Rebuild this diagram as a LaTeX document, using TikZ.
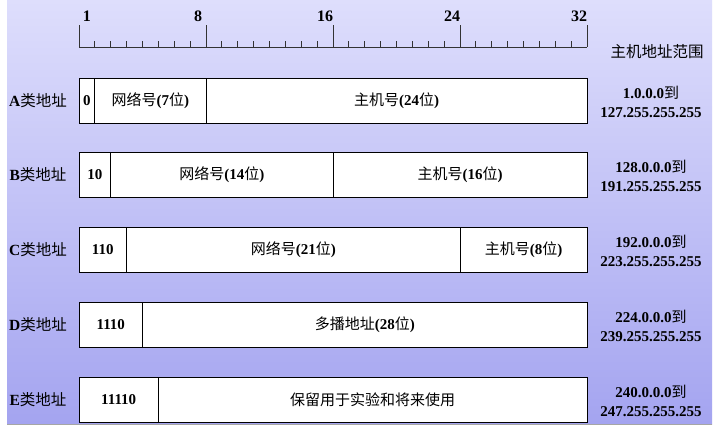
\documentclass[tikz,border=0pt]{standalone}
\usepackage{fontspec}
\setmainfont{Liberation Serif}
\newfontfamily\cjk{Noto Sans CJK SC}
\newcommand\cntext[1]{{\cjk\mdseries #1}}
\usetikzlibrary{positioning}
\tikzset{
  field/.style = {draw, fill=white, line width=0.8pt, minimum height=45pt,
    inner sep=0pt, outer sep=0pt, font=\fontsize{15}{18}\selectfont\bfseries},
  bits/.style = {minimum width=#1*15.875pt},
  rowname/.style = {font=\fontsize{15.5}{18}\selectfont\bfseries},
  iprange/.style = {align=center, font=\fontsize{15}{19}\selectfont\bfseries},
  ruler/.style = {line width=0.8pt, draw=black!80},
}
\definecolor{paneltop}{RGB}{222,222,252}
\definecolor{panelbottom}{RGB}{164,164,240}

\begin{document}
\begin{tikzpicture}[x=1pt, y=-1pt]
  \useasboundingbox (0,0) rectangle (720,426);
  \fill[white] (0,0) rectangle (720,426);
  \shade[top color=paneltop, bottom color=panelbottom] (7,0) rectangle (712,424);
  \draw[black!35, line width=1pt] (7,424.5) -- (712,424.5);

  % ruler
  \draw[ruler] (79,47) -- (587,47);
  \foreach \k in {1,...,31}
    \draw[ruler] (79+15.875*\k,41) -- (79+15.875*\k,47);
  \foreach \k in {0,8,...,32}
    \draw[ruler] (79+15.875*\k,25) -- (79+15.875*\k,47);
  \foreach \n/\k in {1/0, 8/7, 16/15, 24/23, 32/31}
    \node[font=\fontsize{16}{18}\selectfont\bfseries] (bit\n) at (79+15.875*\k+7.9,16) {\n};
  \node[font=\fontsize{15.5}{18}\selectfont] (rangetitle) at (657,52) {\cntext{主机地址范围}};

  % class A
  \node[rowname] (nameA) at (38,101) {A\cntext{类地址}};
  \node[field, bits=1, anchor=west] (A0) at (79,100.5) {0};
  \node[field, bits=7, right=0pt of A0] (A1) {\cntext{网络号}(7\cntext{位})};
  \node[field, bits=24, right=0pt of A1] (A2) {\cntext{主机号}(24\cntext{位})};
  \node[iprange] (rangeA) at (651,102) {1.0.0.0\cntext{到}\\127.255.255.255};

  % class B
  \node[rowname] (nameB) at (38,175) {B\cntext{类地址}};
  \node[field, bits=2, anchor=west] (B0) at (79,175) {10};
  \node[field, bits=14, right=0pt of B0] (B1) {\cntext{网络号}(14\cntext{位})};
  \node[field, bits=16, right=0pt of B1] (B2) {\cntext{主机号}(16\cntext{位})};
  \node[iprange] (rangeB) at (651,176) {128.0.0.0\cntext{到}\\191.255.255.255};

  % class C
  \node[rowname] (nameC) at (38,250) {C\cntext{类地址}};
  \node[field, bits=3, anchor=west] (C0) at (79,249.5) {110};
  \node[field, bits=21, right=0pt of C0] (C1) {\cntext{网络号}(21\cntext{位})};
  \node[field, bits=8, right=0pt of C1] (C2) {\cntext{主机号}(8\cntext{位})};
  \node[iprange] (rangeC) at (651,251) {192.0.0.0\cntext{到}\\223.255.255.255};

  % class D
  \node[rowname] (nameD) at (38,325) {D\cntext{类地址}};
  \node[field, bits=4, anchor=west] (D0) at (79,324.5) {1110};
  \node[field, bits=28, right=0pt of D0] (D1) {\cntext{多播地址}(28\cntext{位})};
  \node[iprange] (rangeD) at (651,326) {224.0.0.0\cntext{到}\\239.255.255.255};

  % class E
  \node[rowname] (nameE) at (38,400) {E\cntext{类地址}};
  \node[field, bits=5, anchor=west] (E0) at (79,399.5) {11110};
  \node[field, bits=27, right=0pt of E0] (E1) {\cntext{保留用于实验和将来使用}};
  \node[iprange] (rangeE) at (651,401) {240.0.0.0\cntext{到}\\247.255.255.255};
\end{tikzpicture}
\end{document}
